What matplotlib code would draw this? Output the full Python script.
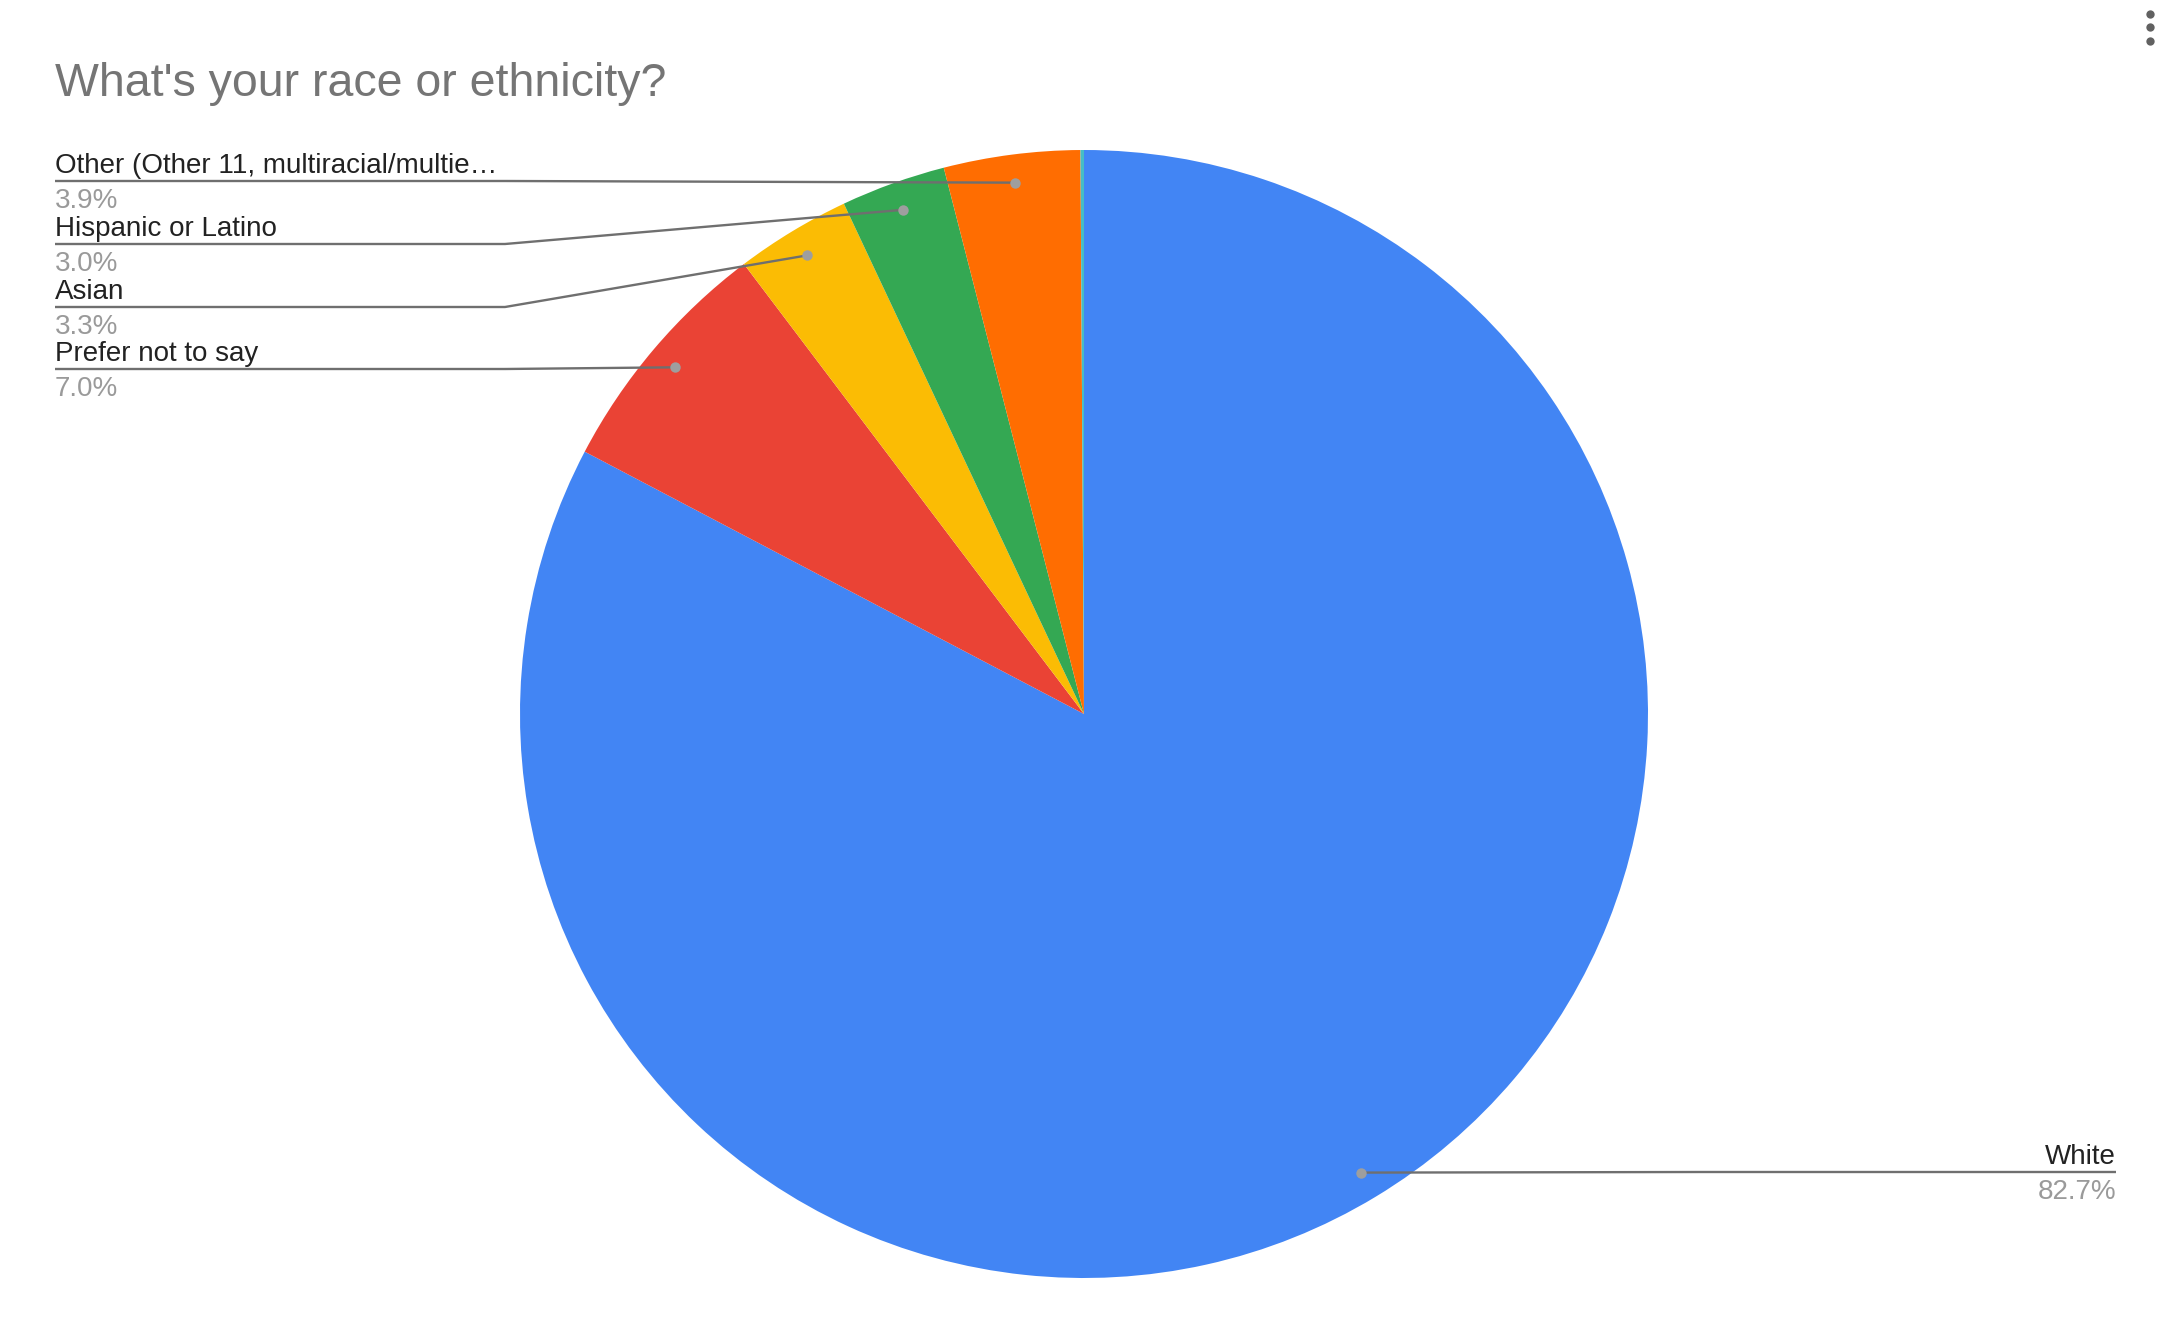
import numpy as np
import matplotlib
matplotlib.use('Agg')
import matplotlib.pyplot as plt

# slices, clockwise from 12 o'clock
categories = ['White', 'Prefer not to say', 'Asian', 'Hispanic or Latino',
              'Other (Other 11, multiracial/multie\u2026', '']
shares = [82.7, 7.0, 3.3, 3.0, 3.9, 0.1]
pct_labels = ['82.7%', '7.0%', '3.3%', '3.0%', '3.9%', '']
colors = ['#4285f4', '#ea4335', '#fbbc04', '#34a853', '#ff6d01', '#46bdc6']

W, H = 2170, 1333
CX, CY, R = 1084, 714, 564

plt.rcParams['font.family'] = ['Liberation Sans', 'DejaVu Sans']
fig = plt.figure(figsize=(W / 100, H / 100), dpi=100)
fig.patch.set_facecolor('white')
ax = fig.add_axes([0, 0, 1, 1])

wedges, _ = ax.pie(shares, colors=colors, startangle=90, counterclock=False,
                   center=(CX, H - CY), radius=R,
                   wedgeprops=dict(linewidth=0, antialiased=True))
ax.set_xlim(0, W)
ax.set_ylim(0, H)
ax.set_aspect('equal')
ax.axis('off')

def anchor(w):
    a = np.deg2rad((w.theta1 + w.theta2) / 2)
    return CX + 0.95 * R * np.cos(a), (H - CY) + 0.95 * R * np.sin(a)

line_col = '#6f6f6f'
dot_col = '#9e9e9e'
name_col = '#222222'
pct_col = '#9a9a9a'
fs = 20

# left-hand labels, top to bottom
left_idx = [4, 3, 2, 1]
left_y = [181, 244, 307, 369]
for i, ly in zip(left_idx, left_y):
    dx, dy = anchor(wedges[i])
    yd = H - ly
    ax.plot([55, 505, dx], [yd, yd, dy], color=line_col, lw=1.7, zorder=3,
            solid_capstyle='butt')
    ax.plot(dx, dy, 'o', color=dot_col, ms=7.5, mec='none', zorder=4)
    ax.text(55, yd + 8, categories[i], fontsize=fs, color=name_col,
            ha='left', va='baseline')
    ax.text(55, yd - 27, pct_labels[i], fontsize=fs, color=pct_col,
            ha='left', va='baseline')

# right-hand label
dx, dy = anchor(wedges[0])
yd = H - 1172
ax.plot([dx, 1700, 2116], [dy, yd, yd], color=line_col, lw=1.7, zorder=3,
        solid_capstyle='butt')
ax.plot(dx, dy, 'o', color=dot_col, ms=7.5, mec='none', zorder=4)
ax.text(2116, yd + 8, categories[0], fontsize=fs, color=name_col,
        ha='right', va='baseline')
ax.text(2116, yd - 27, pct_labels[0], fontsize=fs, color=pct_col,
        ha='right', va='baseline')

ax.text(55, H - 96, "What's your race or ethnicity?", fontsize=33.5,
        color='#757575', ha='left', va='baseline')

# menu dots
ax.plot([2150, 2150, 2150], [H - 14, H - 27, H - 41], 'o', color='#616161',
        ms=6, mec='none')

fig.savefig('out.png', dpi=100)
